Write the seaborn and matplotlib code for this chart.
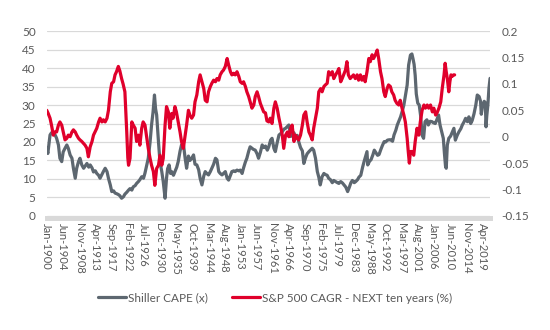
import matplotlib
matplotlib.use("Agg")
import matplotlib.pyplot as plt
from matplotlib.lines import Line2D
import seaborn as sns

# ---------------- data ----------------
cape_year = [1900.0, 1900.3, 1900.6, 1900.9, 1901.3, 1901.8, 1902.3, 1902.7, 1903.2, 1903.6,
             1904.1, 1904.5, 1905.0, 1905.5, 1905.9, 1906.4, 1906.9, 1907.3, 1907.8, 1908.2,
             1908.7, 1909.1, 1909.6, 1910.1, 1910.5, 1911.0, 1911.5, 1911.9, 1912.4, 1912.8,
             1913.3, 1913.7, 1914.2, 1914.6, 1915.1, 1915.5, 1916.0, 1916.5, 1916.9, 1917.4,
             1917.8, 1918.3, 1918.7, 1919.2, 1919.6, 1920.0, 1920.5, 1921.0, 1921.4, 1921.9,
             1922.4, 1922.8, 1923.3, 1923.7, 1924.2, 1924.6, 1925.1, 1925.5, 1926.0, 1926.5,
             1926.9, 1927.4, 1927.8, 1928.3, 1928.7, 1929.1, 1929.5, 1929.8, 1930.1, 1930.6,
             1931.0, 1931.5, 1931.9, 1932.4, 1932.8, 1933.1, 1933.5, 1933.9, 1934.2, 1934.7,
             1935.1, 1935.6, 1936.0, 1936.5, 1936.9, 1937.4, 1937.9, 1938.3, 1938.8, 1939.2,
             1939.7, 1940.2, 1940.6, 1941.1, 1941.6, 1942.0, 1942.5, 1943.0, 1943.4, 1943.9,
             1944.3, 1944.8, 1945.2, 1945.7, 1946.2, 1946.6, 1947.1, 1947.5, 1948.0, 1948.5,
             1948.9, 1949.4, 1949.8, 1950.3, 1950.7, 1951.2, 1951.6, 1952.1, 1952.6, 1953.0,
             1953.5, 1953.9, 1954.4, 1954.8, 1955.3, 1955.7, 1956.2, 1956.6, 1957.1, 1957.6,
             1958.0, 1958.5, 1959.0, 1959.4, 1959.9, 1960.4, 1960.8, 1961.3, 1961.7, 1962.2,
             1962.6, 1963.1, 1963.6, 1964.0, 1964.5, 1965.0, 1965.4, 1965.9, 1966.3, 1966.8,
             1967.2, 1967.7, 1968.1, 1968.6, 1969.0, 1969.5, 1970.0, 1970.4, 1970.9, 1971.3,
             1971.8, 1972.2, 1972.7, 1973.1, 1973.6, 1974.1, 1974.5, 1974.9, 1975.4, 1975.9,
             1976.3, 1976.8, 1977.2, 1977.7, 1978.2, 1978.6, 1979.1, 1979.6, 1980.0, 1980.5,
             1981.0, 1981.4, 1981.9, 1982.4, 1982.8, 1983.3, 1983.7, 1984.2, 1984.6, 1985.1,
             1985.5, 1986.0, 1986.5, 1986.9, 1987.4, 1987.7, 1987.9, 1988.4, 1988.8, 1989.3,
             1989.7, 1990.2, 1990.6, 1991.0, 1991.5, 1991.9, 1992.4, 1992.8, 1993.3, 1993.8,
             1994.2, 1994.7, 1995.1, 1995.6, 1996.0, 1996.5, 1996.9, 1997.4, 1997.8, 1998.3,
             1998.7, 1999.1, 1999.6, 2000.0, 2000.3, 2000.6, 2000.9, 2001.2, 2001.6, 2002.0,
             2002.4, 2002.8, 2003.2, 2003.6, 2004.1, 2004.5, 2005.0, 2005.5, 2005.9, 2006.4,
             2006.9, 2007.3, 2007.7, 2008.2, 2008.6, 2008.9, 2009.2, 2009.4, 2009.7, 2010.1,
             2010.6, 2011.1, 2011.5, 2011.9, 2012.4, 2012.9, 2013.4, 2013.8, 2014.3, 2014.7,
             2015.2, 2015.6, 2016.1, 2016.5, 2017.0, 2017.5, 2017.9, 2018.4, 2018.8, 2019.0,
             2019.3, 2019.8, 2020.1, 2020.3, 2020.5, 2020.8, 2021.1, 2021.4]
cape = [18.3, 16.9, 19.5, 21.9, 22.5, 22.0, 21.9, 21.0, 19.2, 15.6,
        14.7, 17.3, 18.3, 19.2, 18.3, 16.5, 15.6, 12.9, 10.2, 12.9,
        14.7, 15.6, 13.8, 12.9, 13.5, 14.2, 13.2, 13.8, 13.0, 11.9,
        12.2, 11.5, 11.0, 10.2, 11.2, 12.0, 12.9, 12.0, 10.2, 8.4,
        6.6, 6.8, 6.2, 6.0, 5.8, 5.5, 4.8, 5.2, 5.9, 6.4,
        7.0, 7.4, 7.0, 7.9, 8.2, 8.8, 9.3, 9.8, 10.6, 10.2,
        11.6, 13.8, 15.6, 20.0, 24.6, 28.0, 32.7, 29.0, 27.3, 20.0,
        14.7, 12.0, 9.3, 4.8, 10.2, 12.8, 13.8, 11.5, 12.0, 11.0,
        12.0, 13.2, 14.7, 17.5, 19.2, 19.6, 15.6, 12.9, 16.2, 15.0,
        15.6, 16.5, 14.0, 13.8, 12.5, 10.2, 8.4, 10.8, 12.0, 11.4,
        11.1, 12.0, 12.9, 14.0, 15.6, 15.2, 12.0, 11.5, 11.1, 11.6,
        12.0, 10.2, 9.7, 11.0, 12.0, 12.2, 12.0, 12.4, 12.2, 12.4,
        11.5, 13.0, 14.6, 15.6, 17.5, 18.7, 18.3, 18.0, 17.8, 16.8,
        15.6, 17.2, 19.2, 18.5, 18.9, 17.8, 18.7, 20.5, 21.0, 18.3,
        17.4, 19.8, 21.9, 22.2, 22.8, 23.5, 23.7, 24.2, 24.6, 21.5,
        21.9, 22.5, 21.0, 21.8, 20.1, 18.5, 17.6, 14.2, 15.8, 16.8,
        17.4, 17.8, 18.3, 17.8, 15.6, 12.0, 10.5, 8.4, 10.6, 11.5,
        11.2, 11.0, 10.2, 9.8, 9.0, 9.6, 9.3, 9.0, 8.8, 9.3,
        8.9, 8.4, 7.8, 6.6, 7.6, 9.0, 9.6, 9.0, 9.3, 9.8,
        10.5, 11.0, 13.2, 14.7, 16.4, 17.4, 13.8, 14.8, 15.2, 16.5,
        17.8, 17.0, 16.4, 16.6, 18.0, 19.0, 20.1, 20.0, 20.5, 20.6,
        20.6, 20.2, 21.9, 23.2, 24.6, 25.8, 26.8, 28.5, 30.0, 33.0,
        35.4, 40.8, 43.5, 43.8, 42.5, 41.0, 38.0, 33.0, 30.5, 30.0,
        27.0, 21.8, 21.0, 25.5, 26.0, 24.6, 25.6, 25.5, 25.2, 25.0,
        26.2, 27.3, 24.6, 22.6, 21.0, 17.0, 13.5, 12.9, 19.2, 21.0,
        21.6, 22.8, 23.7, 20.5, 21.8, 22.8, 23.6, 24.6, 25.5, 26.4,
        25.5, 26.8, 25.0, 25.8, 27.6, 30.0, 32.7, 32.3, 31.0, 27.5,
        29.5, 31.0, 30.6, 24.1, 27.0, 30.0, 34.5, 37.2]

cagr_year = [1900.0, 1900.4, 1900.9, 1901.3, 1901.8, 1902.2, 1902.7, 1903.2, 1903.6, 1904.1,
             1904.6, 1905.0, 1905.5, 1905.9, 1906.4, 1906.9, 1907.3, 1907.8, 1908.2, 1908.7,
             1909.1, 1909.6, 1910.1, 1910.5, 1911.0, 1911.4, 1911.9, 1912.4, 1912.8, 1913.3,
             1913.7, 1914.2, 1914.6, 1915.1, 1915.5, 1916.0, 1916.5, 1916.9, 1917.4, 1917.8,
             1918.3, 1918.7, 1919.1, 1919.6, 1920.0, 1920.5, 1920.9, 1921.4, 1921.9, 1922.2,
             1922.4, 1922.8, 1923.3, 1923.7, 1924.2, 1924.6, 1925.1, 1925.5, 1926.0, 1926.4,
             1926.9, 1927.3, 1927.8, 1928.3, 1928.7, 1929.2, 1929.6, 1930.1, 1930.6, 1931.0,
             1931.5, 1931.9, 1932.4, 1932.8, 1933.3, 1933.7, 1934.2, 1934.6, 1935.1, 1935.5,
             1936.0, 1936.5, 1936.9, 1937.4, 1937.9, 1938.3, 1938.8, 1939.2, 1939.7, 1940.2,
             1940.6, 1941.1, 1941.6, 1942.0, 1942.5, 1943.0, 1943.4, 1943.9, 1944.3, 1944.8,
             1945.2, 1945.7, 1946.2, 1946.6, 1947.1, 1947.5, 1948.0, 1948.4, 1948.9, 1949.4,
             1949.8, 1950.3, 1950.7, 1951.2, 1951.6, 1952.1, 1952.6, 1953.0, 1953.5, 1953.9,
             1954.4, 1954.8, 1955.3, 1955.7, 1956.2, 1956.7, 1957.1, 1957.6, 1958.0, 1958.5,
             1959.0, 1959.4, 1959.9, 1960.3, 1960.8, 1961.2, 1961.7, 1962.2, 1962.6, 1963.1,
             1963.6, 1964.0, 1964.5, 1964.9, 1965.4, 1965.9, 1966.3, 1966.8, 1967.2, 1967.7,
             1968.1, 1968.6, 1969.0, 1969.5, 1970.0, 1970.4, 1970.9, 1971.3, 1971.8, 1972.2,
             1972.7, 1973.1, 1973.6, 1974.1, 1974.5, 1975.0, 1975.4, 1975.9, 1976.3, 1976.8,
             1977.2, 1977.7, 1978.2, 1978.6, 1979.1, 1979.6, 1980.0, 1980.5, 1980.9, 1981.3,
             1981.8, 1982.2, 1982.6, 1983.1, 1983.6, 1984.0, 1984.5, 1985.0, 1985.4, 1985.9,
             1986.3, 1986.8, 1987.2, 1987.7, 1988.2, 1988.6, 1989.1, 1989.5, 1990.0, 1990.5,
             1990.9, 1991.4, 1991.8, 1992.3, 1992.7, 1993.2, 1993.6, 1994.1, 1994.5, 1995.0,
             1995.4, 1995.9, 1996.4, 1996.8, 1997.3, 1997.8, 1998.2, 1998.7, 1999.0, 1999.3,
             1999.6, 2000.0, 2000.5, 2000.9, 2001.4, 2001.9, 2002.3, 2002.8, 2003.3, 2003.7,
             2004.2, 2004.6, 2005.1, 2005.6, 2006.0, 2006.5, 2007.0, 2007.4, 2007.9, 2008.3,
             2008.8, 2009.1, 2009.4, 2009.7, 2010.1, 2010.4, 2010.7, 2011.0, 2011.4, 2011.7]
cagr = [0.050, 0.044, 0.035, 0.022, 0.003, 0.009, 0.009, 0.022, 0.028, 0.022,
        0.006, -0.006, -0.003, 0.003, 0.000, 0.009, 0.013, 0.009, 0.003, -0.003,
        -0.006, -0.009, -0.013, -0.016, -0.022, -0.038, -0.019, -0.009, 0.003, 0.010,
        0.016, 0.028, 0.035, 0.028, 0.032, 0.028, 0.035, 0.050, 0.085, 0.101,
        0.104, 0.117, 0.123, 0.133, 0.125, 0.110, 0.100, 0.085, 0.010, -0.040,
        -0.054, -0.041, 0.028, 0.022, 0.016, -0.009, 0.003, -0.016, 0.016, 0.028,
        0.022, 0.003, -0.022, -0.041, -0.054, -0.066, -0.092, -0.060, -0.054, -0.035,
        -0.054, -0.041, 0.022, 0.057, 0.047, 0.016, 0.044, 0.035, 0.057, 0.047,
        0.028, 0.009, -0.009, -0.022, 0.003, 0.022, 0.050, 0.041, 0.035, 0.041,
        0.066, 0.079, 0.104, 0.117, 0.104, 0.091, 0.069, 0.066, 0.085, 0.095,
        0.101, 0.107, 0.104, 0.110, 0.107, 0.117, 0.123, 0.126, 0.133, 0.148,
        0.136, 0.123, 0.117, 0.120, 0.117, 0.123, 0.114, 0.104, 0.101, 0.104,
        0.095, 0.085, 0.076, 0.066, 0.054, 0.060, 0.076, 0.085, 0.076, 0.063,
        0.054, 0.047, 0.045, 0.030, 0.028, 0.035, 0.025, 0.054, 0.066, 0.054,
        0.035, 0.022, 0.003, -0.022, 0.003, 0.009, 0.000, 0.016, 0.022, -0.009,
        0.003, -0.003, -0.006, 0.003, 0.022, 0.041, 0.047, 0.028, 0.009, 0.003,
        -0.006, 0.016, 0.035, 0.054, 0.085, 0.091, 0.085, 0.095, 0.098, 0.101,
        0.123, 0.117, 0.123, 0.110, 0.117, 0.123, 0.129, 0.104, 0.110, 0.117,
        0.126, 0.142, 0.117, 0.110, 0.114, 0.117, 0.110, 0.117, 0.107, 0.117,
        0.107, 0.114, 0.104, 0.123, 0.148, 0.142, 0.155, 0.148, 0.155, 0.164,
        0.148, 0.123, 0.110, 0.085, 0.076, 0.091, 0.098, 0.095, 0.085, 0.079,
        0.069, 0.063, 0.060, 0.069, 0.054, 0.041, 0.028, -0.003, -0.028, -0.050,
        -0.028, -0.028, -0.035, -0.009, 0.016, 0.003, 0.028, 0.050, 0.060, 0.054,
        0.060, 0.054, 0.060, 0.047, 0.054, 0.041, 0.047, 0.054, 0.066, 0.091,
        0.117, 0.139, 0.123, 0.110, 0.085, 0.104, 0.117, 0.114, 0.117, 0.117]

left_ticks = [0, 5, 10, 15, 20, 25, 30, 35, 40, 45, 50]
right_ticks = [-0.15, -0.1, -0.05, 0, 0.05, 0.1, 0.15, 0.2]
tick_labels = ["Jan-1900", "Jun-1904", "Nov-1908", "Apr-1913", "Sep-1917", "Feb-1922",
               "Jul-1926", "Dec-1930", "May-1935", "Oct-1939", "Mar-1944", "Aug-1948",
               "Jan-1953", "Jun-1957", "Nov-1961", "Apr-1966", "Sep-1970", "Feb-1975",
               "Jul-1979", "Dec-1983", "May-1988", "Oct-1992", "Mar-1997", "Aug-2001",
               "Jan-2006", "Jun-2010", "Nov-2014", "Apr-2019"]
series_names = ["Shiller CAPE (x)", "S&P 500 CAGR - NEXT ten years (%)"]

# ---------------- style ----------------
GRAY = "#5d6770"
RED = "#e0002b"
TXT = "#595959"
GRID = "#d9d9d9"
LW = 2.3

sns.set_style("white")
plt.rcParams["font.family"] = ["Lato", "DejaVu Sans"]

MONTHS = ["Jan", "Feb", "Mar", "Apr", "May", "Jun", "Jul", "Aug", "Sep", "Oct", "Nov", "Dec"]
tick_pos = [int(t.split("-")[1]) + MONTHS.index(t.split("-")[0]) / 12 for t in tick_labels]

fig, ax = plt.subplots(figsize=(5.5, 3.3), dpi=100)
fig.subplots_adjust(left=0.085, right=0.891, top=0.906, bottom=0.3455)

sns.lineplot(x=cape_year, y=cape, ax=ax, color=GRAY, lw=LW, legend=False)
ax2 = ax.twinx()
sns.lineplot(x=cagr_year, y=cagr, ax=ax2, color=RED, lw=LW, legend=False)

ax.set_xlim(cape_year[0], cape_year[-1])
ax.set_ylim(0, 50)
ax2.set_ylim(-0.15, 0.2)

ax.tick_params(axis="y", length=0, pad=8, labelsize=8.5, labelcolor=TXT)
ax2.tick_params(axis="y", length=0, pad=8, labelsize=8.5, labelcolor=TXT)
ax.tick_params(axis="x", length=0, pad=3, labelsize=8, labelcolor=TXT, labelrotation=-90)

ax.set_yticks(left_ticks)
ax.set_yticklabels([str(v) for v in left_ticks])
ax2.set_yticks(right_ticks)
ax2.set_yticklabels(["{:g}".format(v) for v in right_ticks])
ax.set_xticks(tick_pos)
ax.set_xticklabels(tick_labels)
for lab in ax.get_xticklabels():
    lab.set_rotation(-90)
    lab.set_ha("center")
    lab.set_va("top")
ax.set_xlabel("")
ax.set_ylabel("")
ax2.set_ylabel("")

ax.yaxis.grid(True, color=GRID, lw=0.9)
ax.xaxis.grid(False)
ax2.grid(False)
ax.set_axisbelow(True)

for s in ["top", "left", "right"]:
    ax.spines[s].set_visible(False)
for s in ax2.spines.values():
    s.set_visible(False)
ax.spines["bottom"].set_color(GRID)
ax.spines["bottom"].set_linewidth(3.6)
ax.spines["bottom"].set_position(("outward", 1.8))

handles = [Line2D([], [], color=GRAY, lw=LW), Line2D([], [], color=RED, lw=LW)]
fig.legend(handles, series_names, loc="center", bbox_to_anchor=(0.5, 0.097), ncol=2,
           frameon=False, fontsize=8.5, handlelength=2.4, handletextpad=0.2,
           columnspacing=2.0, labelcolor=TXT)

fig.savefig("out.png", dpi=100)
